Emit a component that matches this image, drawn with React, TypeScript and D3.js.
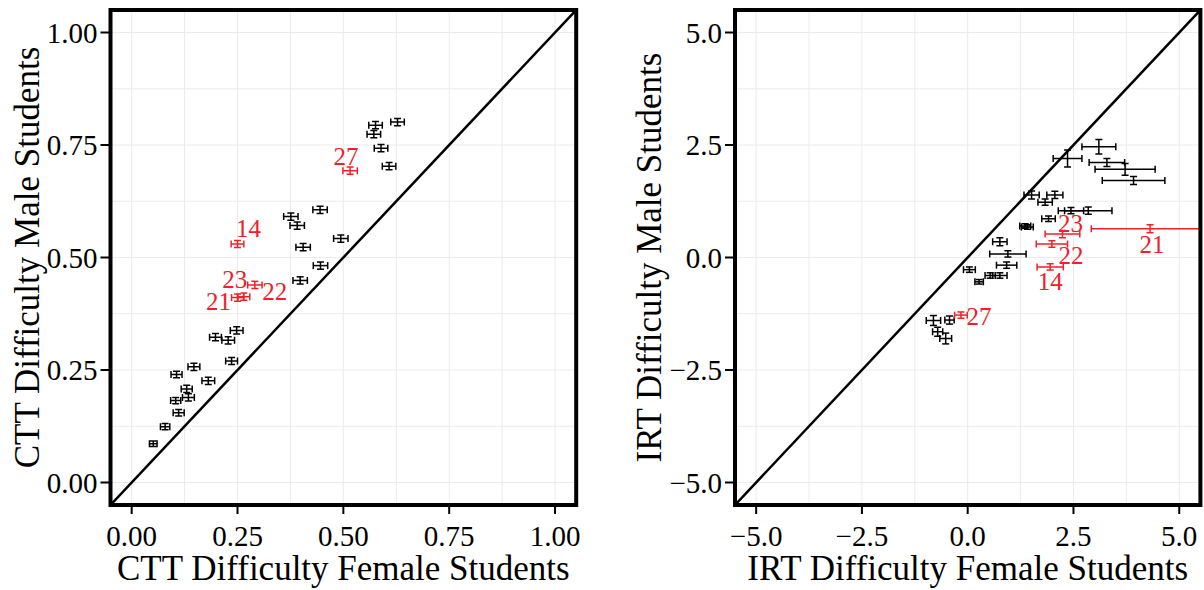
import React from "react";
import * as d3 from "d3";

// CTT difficulty (proportion correct), female vs male; last five are flagged items
const cttFemale = [0.628, 0.576, 0.572, 0.589, 0.608, 0.445, 0.376, 0.391, 0.405, 0.494, 0.446, 0.398,
  0.248, 0.198, 0.228, 0.236, 0.147, 0.106, 0.181, 0.130, 0.134, 0.104, 0.111, 0.079, 0.051,
  0.250, 0.250, 0.291, 0.265, 0.516];
const cttMale = [0.801, 0.794, 0.774, 0.743, 0.703, 0.606, 0.591, 0.571, 0.523, 0.542, 0.482, 0.449,
  0.338, 0.323, 0.316, 0.270, 0.257, 0.240, 0.226, 0.208, 0.189, 0.182, 0.155, 0.124, 0.086,
  0.530, 0.411, 0.439, 0.413, 0.693];
const cttFemaleErr = [0.016, 0.016, 0.016, 0.016, 0.016, 0.017, 0.017, 0.017, 0.017, 0.017, 0.017, 0.017,
  0.015, 0.014, 0.015, 0.014, 0.014, 0.013, 0.015, 0.013, 0.014, 0.012, 0.013, 0.011, 0.009,
  0.015, 0.014, 0.017, 0.014, 0.017];
const cttMaleErr = [0.008, 0.008, 0.008, 0.008, 0.008, 0.008, 0.008, 0.008, 0.008, 0.008, 0.008, 0.008,
  0.008, 0.008, 0.008, 0.008, 0.008, 0.007, 0.008, 0.008, 0.008, 0.007, 0.007, 0.007, 0.006,
  0.008, 0.008, 0.008, 0.008, 0.008];

// IRT difficulty, female vs male
const irtFemale = [3.10, 2.36, 3.29, 3.72, 3.92, 1.51, 2.06, 1.83, 2.44, 2.85, 1.91, 1.36, 1.41,
  0.76, 0.95, 0.92, 0.04, 0.53, 0.76, 0.27, -0.81, -0.43, -0.71, -0.52,
  1.95, 4.31, 1.99, 2.24, -0.16];
const irtMale = [2.46, 2.20, 2.11, 1.96, 1.71, 1.39, 1.39, 1.23, 1.04, 1.04, 0.86, 0.70, 0.68,
  0.35, 0.08, -0.17, -0.27, -0.40, -0.40, -0.54, -1.40, -1.39, -1.65, -1.80,
  -0.21, 0.64, 0.30, 0.52, -1.28];
const irtFemaleErr = [0.40, 0.34, 0.42, 0.71, 0.74, 0.18, 0.19, 0.17, 0.30, 0.56, 0.16, 0.13, 0.14,
  0.17, 0.43, 0.24, 0.14, 0.12, 0.17, 0.10, 0.17, 0.11, 0.12, 0.14,
  0.31, 1.39, 0.37, 0.41, 0.15];
const irtMaleErr = [0.16, 0.19, 0.09, 0.13, 0.09, 0.09, 0.08, 0.07, 0.07, 0.08, 0.06, 0.05, 0.05,
  0.09, 0.07, 0.07, 0.06, 0.06, 0.06, 0.05, 0.11, 0.09, 0.10, 0.12,
  0.07, 0.09, 0.07, 0.08, 0.07];

const flaggedItems = ["14", "21", "22", "23", "27"];

const cttTicks = [0, 0.25, 0.5, 0.75, 1];
const irtTicks = [-5, -2.5, 0, 2.5, 5];

// pixel nudges for the item labels (repel-style placement)
const cttLabelNudge = [[11, -16], [-19, 4], [20, 7], [-9, -17], [-4, -14]];
const irtLabelNudge = [[0, 15], [2, 16], [19, 11], [8, -11], [18, 1]];

const FONT = "Liberation Serif";
const RED = "#f0202a";
const TOP = 10;
const BOTTOM = 505;

const Panel = ({ id, left, right, domain, ticks, fmt, xs, ys, xErr, yErr, nudges, xTitle, yTitle, yTitleX }) => {
  const x = d3.scaleLinear().domain(domain).range([left, right]);
  const y = d3.scaleLinear().domain(domain).range([BOTTOM, TOP]);
  const step = ticks[1] - ticks[0];
  const grid = d3.range(ticks[0] - step, ticks[ticks.length - 1] + step * 1.01, step / 2)
    .filter(v => v > domain[0] && v < domain[1]);
  const firstFlag = xs.length - flaggedItems.length;
  const cap = 3.5;

  return (
    <g>
      <defs>
        <clipPath id={id}>
          <rect x={left} y={TOP} width={right - left} height={BOTTOM - TOP} />
        </clipPath>
      </defs>
      <rect x={left} y={TOP} width={right - left} height={BOTTOM - TOP} fill="#fff" />
      <g stroke="#ebebeb" strokeWidth={1}>
        {grid.map(v => (
          <g key={v}>
            <line x1={x(v)} x2={x(v)} y1={TOP} y2={BOTTOM} />
            <line x1={left} x2={right} y1={y(v)} y2={y(v)} />
          </g>
        ))}
      </g>
      <g clipPath={`url(#${id})`}>
        <line x1={x(domain[0])} y1={y(domain[0])} x2={x(domain[1])} y2={y(domain[1])}
          stroke="#000" strokeWidth={2.5} />
        {xs.map((v, i) => {
          const col = i >= firstFlag ? RED : "#000";
          const cx = x(v), cy = y(ys[i]);
          const x0 = x(v - xErr[i]), x1 = x(v + xErr[i]);
          const y0 = y(ys[i] - yErr[i]), y1 = y(ys[i] + yErr[i]);
          return (
            <g key={i} stroke={col} strokeWidth={1.5}>
              <line x1={x0} x2={x1} y1={cy} y2={cy} />
              <line x1={x0} x2={x0} y1={cy - cap} y2={cy + cap} />
              <line x1={x1} x2={x1} y1={cy - cap} y2={cy + cap} />
              <line x1={cx} x2={cx} y1={y0} y2={y1} />
              <line x1={cx - cap} x2={cx + cap} y1={y0} y2={y0} />
              <line x1={cx - cap} x2={cx + cap} y1={y1} y2={y1} />
            </g>
          );
        })}
        {flaggedItems.map((lab, k) => {
          const i = firstFlag + k;
          return (
            <text key={lab} x={x(xs[i]) + nudges[k][0]} y={y(ys[i]) + nudges[k][1]} fontFamily={FONT}
              fill={RED} fontSize={25} textAnchor="middle" dominantBaseline="central">{lab}</text>
          );
        })}
      </g>
      <rect x={left} y={TOP} width={right - left} height={BOTTOM - TOP} fill="none"
        stroke="#000" strokeWidth={4} />
      {ticks.map(t => (
        <g key={"x" + t}>
          <line x1={x(t)} x2={x(t)} y1={BOTTOM} y2={BOTTOM + 9} stroke="#000" strokeWidth={2} />
          <text x={x(t)} y={BOTTOM + 41} textAnchor="middle" fontFamily={FONT} fontSize={29}>{fmt(t)}</text>
        </g>
      ))}
      {ticks.map(t => (
        <g key={"y" + t}>
          <line x1={left - 10} x2={left} y1={y(t)} y2={y(t)} stroke="#000" strokeWidth={2} />
          <text x={left - 13} y={y(t) + 10} textAnchor="end" fontFamily={FONT} fontSize={29}>{fmt(t)}</text>
        </g>
      ))}
      <text x={(left + right) / 2} y={580} fontFamily={FONT} fontSize={35} textAnchor="middle">{xTitle}</text>
      <text transform={`translate(${yTitleX},${(TOP + BOTTOM) / 2}) rotate(-90)`} fontFamily={FONT}
        fontSize={35} textAnchor="middle">{yTitle}</text>
    </g>
  );
};

export default function App() {
  return (
    <svg width={1204} height={590} style={{ position: "absolute", left: 0, top: 0 }}>
      <rect width={1204} height={590} fill="#fff" />
      <Panel id="clip-ctt" left={110.5} right={576.2} domain={[-0.05, 1.05]} ticks={cttTicks}
        fmt={d3.format(".2f")} xs={cttFemale} ys={cttMale} xErr={cttFemaleErr} yErr={cttMaleErr}
        nudges={cttLabelNudge} xTitle="CTT Difficulty Female Students"
        yTitle="CTT Difficulty Male Students" yTitleX={39} />
      <Panel id="clip-irt" left={735} right={1200.4} domain={[-5.5, 5.5]} ticks={irtTicks}
        fmt={d3.format(".1f")} xs={irtFemale} ys={irtMale} xErr={irtFemaleErr} yErr={irtMaleErr}
        nudges={irtLabelNudge} xTitle="IRT Difficulty Female Students"
        yTitle="IRT Difficulty Male Students" yTitleX={661} />
    </svg>
  );
}
